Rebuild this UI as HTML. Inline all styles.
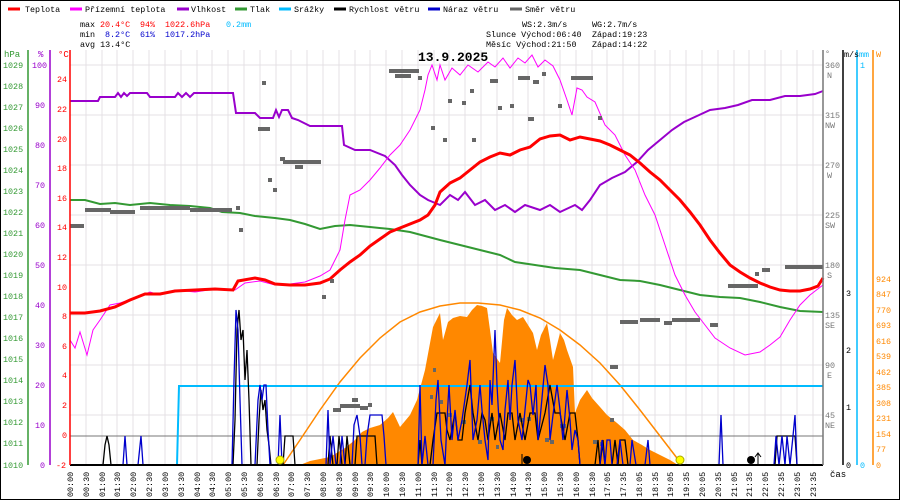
<!DOCTYPE html>
<html><head><meta charset="utf-8"><style>
html,body{margin:0;padding:0;background:#fff}
svg{display:block}
text{font-family:"Liberation Mono","DejaVu Sans Mono",monospace;font-size:8.4px}
</style></head><body>
<svg width="900" height="500" viewBox="0 0 900 500" xmlns="http://www.w3.org/2000/svg">
<rect x="0.5" y="0.5" width="899" height="499" fill="#fff" stroke="#000"/>
<!-- legend -->
<g stroke-width="3">
<line x1="8" y1="9" x2="20" y2="9" stroke="#f00"/>
<line x1="70" y1="9" x2="82" y2="9" stroke="#f0f"/>
<line x1="177" y1="9" x2="189" y2="9" stroke="#90c"/>
<line x1="235" y1="9" x2="247" y2="9" stroke="#393"/>
<line x1="279" y1="9" x2="291" y2="9" stroke="#0bf"/>
<line x1="334" y1="9" x2="346" y2="9" stroke="#000"/>
<line x1="428" y1="9" x2="440" y2="9" stroke="#00c"/>
<line x1="510" y1="9" x2="522" y2="9" stroke="#666"/>
</g>
<g fill="#000" style="font-size:9px">
<text x="25" y="12">Teplota</text>
<text x="85" y="12">Přízemní teplota</text>
<text x="191" y="12">Vlhkost</text>
<text x="250" y="12">Tlak</text>
<text x="294" y="12">Srážky</text>
<text x="349" y="12">Rychlost větru</text>
<text x="443" y="12">Náraz větru</text>
<text x="525" y="12">Směr větru</text>
</g>
<g fill="#000">
<text x="80" y="27">max</text><text x="80" y="37">min</text><text x="80" y="47">avg 13.4°C</text>
<text x="100" y="27" fill="#f00">20.4°C</text><text x="140" y="27" fill="#f00">94%</text><text x="165" y="27" fill="#f00">1022.6hPa</text><text x="226" y="27" fill="#0bf">0.2mm</text>
<text x="105" y="37" fill="#00c">8.2°C</text><text x="140" y="37" fill="#00c">61%</text><text x="165" y="37" fill="#00c">1017.2hPa</text>
<text x="522" y="27">WS:2.3m/s</text><text x="592" y="27">WG:2.7m/s</text>
<text x="486" y="37">Slunce Východ:06:40</text><text x="592" y="37">Západ:19:23</text>
<text x="486" y="47">Měsíc  Východ:21:50</text><text x="592" y="47">Západ:14:22</text>
</g>
<!-- grid -->
<g stroke="#e4e0e4">
<line x1="86" y1="50" x2="86" y2="465"/><line x1="102" y1="50" x2="102" y2="465"/><line x1="117" y1="50" x2="117" y2="465"/><line x1="133" y1="50" x2="133" y2="465"/><line x1="149" y1="50" x2="149" y2="465"/><line x1="165" y1="50" x2="165" y2="465"/><line x1="181" y1="50" x2="181" y2="465"/><line x1="197" y1="50" x2="197" y2="465"/><line x1="212" y1="50" x2="212" y2="465"/><line x1="228" y1="50" x2="228" y2="465"/><line x1="244" y1="50" x2="244" y2="465"/><line x1="260" y1="50" x2="260" y2="465"/><line x1="276" y1="50" x2="276" y2="465"/><line x1="291" y1="50" x2="291" y2="465"/><line x1="307" y1="50" x2="307" y2="465"/><line x1="323" y1="50" x2="323" y2="465"/><line x1="339" y1="50" x2="339" y2="465"/><line x1="355" y1="50" x2="355" y2="465"/><line x1="370" y1="50" x2="370" y2="465"/><line x1="386" y1="50" x2="386" y2="465"/><line x1="402" y1="50" x2="402" y2="465"/><line x1="418" y1="50" x2="418" y2="465"/><line x1="434" y1="50" x2="434" y2="465"/><line x1="449" y1="50" x2="449" y2="465"/><line x1="465" y1="50" x2="465" y2="465"/><line x1="481" y1="50" x2="481" y2="465"/><line x1="497" y1="50" x2="497" y2="465"/><line x1="513" y1="50" x2="513" y2="465"/><line x1="528" y1="50" x2="528" y2="465"/><line x1="544" y1="50" x2="544" y2="465"/><line x1="560" y1="50" x2="560" y2="465"/><line x1="576" y1="50" x2="576" y2="465"/><line x1="592" y1="50" x2="592" y2="465"/><line x1="607" y1="50" x2="607" y2="465"/><line x1="623" y1="50" x2="623" y2="465"/><line x1="639" y1="50" x2="639" y2="465"/><line x1="655" y1="50" x2="655" y2="465"/><line x1="670" y1="50" x2="670" y2="465"/><line x1="686" y1="50" x2="686" y2="465"/><line x1="702" y1="50" x2="702" y2="465"/><line x1="718" y1="50" x2="718" y2="465"/><line x1="734" y1="50" x2="734" y2="465"/><line x1="749" y1="50" x2="749" y2="465"/><line x1="765" y1="50" x2="765" y2="465"/><line x1="781" y1="50" x2="781" y2="465"/><line x1="797" y1="50" x2="797" y2="465"/><line x1="813" y1="50" x2="813" y2="465"/>
<line x1="70" y1="65" x2="823" y2="65"/><line x1="70" y1="115" x2="823" y2="115"/><line x1="70" y1="165" x2="823" y2="165"/><line x1="70" y1="215" x2="823" y2="215"/><line x1="70" y1="265" x2="823" y2="265"/><line x1="70" y1="315" x2="823" y2="315"/><line x1="70" y1="365" x2="823" y2="365"/><line x1="70" y1="415" x2="823" y2="415"/>
</g>
<line x1="70" y1="436" x2="823" y2="436" stroke="#777"/>
<!-- solar fill -->
<polygon fill="#f80" points="300,465 310,461 330,457 345,448 355,440 362,432 370,428 380,425 388,418 393,412 400,427 410,415 417,400 425,370 433,327 440,313 443,340 448,322 453,318 460,316 467,317 472,310 477,305 482,306 487,308 490,330 493,353 500,363 504,320 507,308 512,315 517,320 523,317 528,325 533,333 537,350 541,335 547,323 550,340 553,360 557,345 560,333 564,340 567,350 573,367 575,413 580,400 587,390 592,398 600,407 607,415 617,423 625,430 633,440 642,445 650,450 660,455 670,460 678,465"/>
<polyline fill="none" stroke="#f80" stroke-width="1.5" points="283,465 300,440 320,410 340,382 360,358 380,338 400,322 420,312 440,306 460,303 478,303 500,305 520,310 540,318 560,330 580,345 600,363 620,385 640,410 660,436 680,462"/>
<!-- precip -->
<polyline fill="none" stroke="#0bf" stroke-width="2" points="70,465 177,465 179,386 823,386"/>
<!-- pressure -->
<polyline fill="none" stroke="#393" stroke-width="2" points="70,200 85,200 100,204 115,203 130,205 150,203 170,205 190,206 210,208 222,212 240,213 255,216 275,218 290,220 305,224 320,229 335,226 350,225 370,227 390,229 410,232 425,236 440,240 460,245 480,250 500,255 515,262 535,265 555,268 580,270 600,275 620,280 640,281 660,285 680,290 700,295 720,297 740,298 760,302 780,307 800,311 823,312"/>
<!-- humidity -->
<polyline fill="none" stroke="#90c" stroke-width="2" points="70,101 98,101 100,97 115,97 118,93 121,97 124,93 127,96 130,93 147,93 150,97 175,97 178,93 182,97 186,93 190,97 194,93 233,93 236,113 255,113 260,118 273,118 276,110 279,117 282,110 288,110 292,118 298,120 310,126 342,126 344,145 355,150 370,150 385,156 395,165 402,175 410,185 420,195 428,200 440,205 450,195 458,200 465,192 475,205 485,200 495,210 505,205 515,212 525,205 540,210 550,205 560,212 575,205 582,210 590,200 600,185 612,178 625,172 637,162 648,150 660,140 672,130 684,122 697,116 710,110 725,108 738,105 752,100 770,100 785,96 800,96 815,94 823,91"/>
<!-- apparent temp -->
<polyline fill="none" stroke="#f0f" stroke-width="1" points="70,340 75,348 80,332 87,355 93,330 100,320 110,305 120,303 135,298 150,292 160,295 175,290 195,292 215,289 235,290 245,283 260,281 275,285 290,284 305,282 320,276 330,270 340,250 345,220 350,195 360,190 370,180 380,168 390,155 400,145 410,130 420,110 425,90 428,75 432,65 437,80 440,65 445,80 452,68 460,75 468,65 478,72 488,62 495,67 503,58 510,68 518,58 525,63 532,55 538,67 545,60 553,66 560,80 567,100 572,115 577,88 582,90 587,97 595,102 605,125 615,135 625,155 635,170 645,195 655,215 665,245 675,275 685,295 695,312 705,325 715,338 730,348 745,355 760,352 770,345 780,337 790,320 800,305 810,295 823,285"/>
<!-- temperature -->
<polyline fill="none" stroke="#f00" stroke-width="3" points="70,313 85,313 100,311 115,307 130,300 145,294 160,294 175,291 195,290 215,289 233,290 238,281 255,278 265,280 275,284 290,285 305,285 320,283 330,279 340,270 350,262 360,255 370,246 380,239 390,232 400,228 410,224 420,220 428,215 435,205 440,192 450,183 460,178 470,170 480,162 490,157 500,153 510,155 520,150 530,147 540,139 550,136 560,135 570,140 580,137 590,139 600,141 610,145 620,150 630,155 640,163 650,172 660,180 670,190 680,200 690,212 700,225 710,240 720,253 730,265 740,272 750,278 760,283 770,287 780,290 790,291 800,291 810,289 818,286 823,278"/>
<!-- wind direction -->
<g fill="#666">
<rect x="70" y="224" width="14" height="4"/><rect x="85" y="208" width="26" height="4"/><rect x="110" y="210" width="25" height="4"/><rect x="140" y="206" width="50" height="4"/><rect x="190" y="208" width="42" height="4"/><rect x="236" y="206" width="4" height="4"/><rect x="239" y="228" width="4" height="4"/>
<rect x="262" y="81" width="4" height="4"/><rect x="258" y="127" width="12" height="4"/><rect x="268" y="178" width="4" height="4"/><rect x="273" y="188" width="4" height="4"/><rect x="280" y="157" width="5" height="4"/><rect x="283" y="160" width="38" height="4"/><rect x="295" y="165" width="8" height="4"/><rect x="322" y="295" width="4" height="4"/><rect x="330" y="279" width="4" height="4"/>
<rect x="333" y="408" width="8" height="4"/><rect x="340" y="404" width="20" height="4"/><rect x="352" y="398" width="6" height="4"/><rect x="360" y="406" width="8" height="4"/><rect x="368" y="403" width="4" height="4"/>
<rect x="389" y="69" width="30" height="4"/><rect x="395" y="74" width="16" height="4"/><rect x="418" y="76" width="4" height="4"/><rect x="431" y="126" width="4" height="4"/><rect x="443" y="138" width="4" height="4"/><rect x="448" y="99" width="4" height="4"/><rect x="462" y="101" width="4" height="4"/><rect x="470" y="89" width="4" height="4"/><rect x="472" y="138" width="4" height="4"/><rect x="490" y="79" width="8" height="4"/><rect x="498" y="106" width="4" height="4"/><rect x="510" y="104" width="4" height="4"/><rect x="518" y="76" width="12" height="4"/><rect x="528" y="117" width="6" height="4"/><rect x="533" y="80" width="6" height="4"/><rect x="542" y="72" width="4" height="4"/><rect x="558" y="104" width="4" height="4"/><rect x="571" y="76" width="22" height="4"/><rect x="598" y="116" width="4" height="4"/>
<rect x="620" y="320" width="18" height="4"/><rect x="640" y="318" width="20" height="4"/><rect x="664" y="321" width="8" height="4"/><rect x="672" y="318" width="28" height="4"/><rect x="710" y="323" width="8" height="4"/><rect x="610" y="365" width="8" height="4"/>
<rect x="728" y="284" width="30" height="4"/><rect x="755" y="272" width="4" height="4"/><rect x="762" y="268" width="8" height="4"/><rect x="785" y="265" width="38" height="4"/>
<rect x="433" y="368" width="3" height="4"/><rect x="430" y="395" width="3" height="4"/><rect x="440" y="400" width="3" height="4"/><rect x="448" y="413" width="4" height="4"/><rect x="462" y="420" width="4" height="4"/><rect x="478" y="440" width="4" height="4"/><rect x="490" y="417" width="4" height="4"/><rect x="496" y="445" width="3" height="4"/><rect x="520" y="418" width="4" height="4"/><rect x="527" y="417" width="4" height="4"/><rect x="545" y="438" width="4" height="4"/><rect x="550" y="440" width="4" height="4"/><rect x="560" y="424" width="6" height="4"/><rect x="593" y="440" width="4" height="4"/><rect x="600" y="442" width="3" height="4"/><rect x="610" y="418" width="4" height="4"/>
</g>
<!-- wind speed -->
<polyline fill="none" stroke="#000" stroke-width="1.3" points="70,465 103,465 105,445 107,436 109,445 111,465 233,465 235,420 237,330 239,310 241,340 243,330 245,380 247,350 249,400 251,465 257,465 259,420 261,390 263,410 265,400 267,430 269,445 271,465 283,465 285,436 293,436 295,465 328,465 330,436 333,465 337,465 339,436 342,465 345,465 347,436 350,465 355,465 357,436 375,436 377,465 418,465 420,440 422,465 430,465 433,440 437,413 445,413 447,430 450,440 455,413 458,440 462,440 465,413 470,385 473,413 478,440 482,413 485,420 488,440 492,413 495,440 500,413 505,440 508,413 512,413 515,440 520,413 525,440 530,413 535,413 538,440 545,413 550,385 555,413 560,413 565,440 570,413 575,413 578,440 580,465 595,465 598,440 600,465 603,440 605,465 612,465 615,440 618,465 620,440 625,440 628,465 775,465 777,436 795,436 797,465 823,465"/>
<polyline fill="none" stroke="#00c" stroke-width="1.3" points="70,465 123,465 125,436 127,465 138,465 141,436 143,465 232,465 234,380 236,310 238,330 240,400 242,465 255,465 258,400 260,385 262,400 264,385 266,385 268,430 270,465 278,465 280,415 282,465 326,465 328,410 330,465 333,436 336,465 340,465 342,436 345,465 352,465 354,425 357,415 360,436 362,465 365,465 367,436 370,415 382,415 384,436 386,465 418,465 420,385 422,465 425,436 428,465 433,465 436,400 438,380 441,440 445,465 447,420 449,385 452,440 455,410 458,440 462,420 467,385 470,360 473,440 477,420 480,385 482,410 485,440 488,460 490,380 492,405 495,330 497,385 500,440 503,450 505,410 508,380 510,420 512,385 515,360 518,420 522,440 525,410 528,380 530,385 533,415 536,385 538,440 540,420 545,365 548,385 550,440 553,415 557,385 560,410 563,440 567,390 570,420 572,450 575,430 578,440 580,465 600,465 602,440 605,465 607,440 610,440 612,465 617,465 620,440 623,465 630,465 632,440 636,465 645,465 648,440 650,465 719,465 721,415 723,465 774,465 776,436 779,465 782,436 785,465 787,436 790,465 793,436 795,415 797,465 823,465"/>
<line x1="70" y1="465" x2="823" y2="465" stroke="#000" stroke-width="2"/>
<!-- markers -->
<circle cx="280" cy="460" r="4" fill="#ff0" stroke="#aa0"/>
<circle cx="680" cy="460" r="4" fill="#ff0" stroke="#aa0"/>
<circle cx="527" cy="460" r="4" fill="#000"/>
<circle cx="751" cy="460" r="4" fill="#000"/>
<line x1="522" y1="454" x2="522" y2="465" stroke="#000"/>
<line x1="758" y1="454" x2="758" y2="464" stroke="#000"/><path d="M755,457 L758,453 L761,457" fill="none" stroke="#000"/>
<!-- title -->
<text x="418" y="61" style="font-size:13px;font-weight:bold">13.9.2025</text>
<!-- left axes -->
<line x1="28" y1="50" x2="28" y2="465" stroke="#393" stroke-width="1.5"/>
<line x1="50" y1="50" x2="50" y2="465" stroke="#90c" stroke-width="1.5"/>
<line x1="70" y1="50" x2="70" y2="465" stroke="#f00" stroke-width="1.5"/>
<text x="4" y="57" fill="#393" style="font-size:9px">hPa</text><text x="38" y="57" fill="#90c" style="font-size:9px">%</text><text x="58" y="57" fill="#f00" style="font-size:9px">°C</text>
<g fill="#393" style="font-size:9px">
<text x="3" y="68">1029</text><text x="3" y="89">1028</text><text x="3" y="110">1027</text><text x="3" y="131">1026</text><text x="3" y="152">1025</text><text x="3" y="173">1024</text><text x="3" y="194">1023</text><text x="3" y="215">1022</text><text x="3" y="236">1021</text><text x="3" y="257">1020</text><text x="3" y="278">1019</text><text x="3" y="299">1018</text><text x="3" y="320">1017</text><text x="3" y="341">1016</text><text x="3" y="362">1015</text><text x="3" y="383">1014</text><text x="3" y="404">1013</text><text x="3" y="425">1012</text><text x="3" y="446">1011</text><text x="3" y="468">1010</text>
</g>
<g fill="#90c" style="font-size:9px">
<text x="32" y="68">100</text><text x="35" y="108">90</text><text x="35" y="148">80</text><text x="35" y="188">70</text><text x="35" y="228">60</text><text x="35" y="268">50</text><text x="35" y="308">40</text><text x="35" y="348">30</text><text x="35" y="388">20</text><text x="35" y="428">10</text><text x="40" y="468">0</text>
</g>
<g fill="#f00" style="font-size:9px">
<text x="57" y="82">24</text><text x="57" y="112">22</text><text x="57" y="142">20</text><text x="57" y="171">18</text><text x="57" y="201">16</text><text x="57" y="230">14</text><text x="57" y="260">12</text><text x="57" y="290">10</text><text x="62" y="319">8</text><text x="62" y="349">6</text><text x="62" y="378">4</text><text x="62" y="408">2</text><text x="62" y="438">0</text><text x="56" y="468">-2</text>
</g>
<!-- right axes -->
<line x1="823" y1="50" x2="823" y2="465" stroke="#777" stroke-width="1.5"/>
<line x1="843" y1="50" x2="843" y2="465" stroke="#000" stroke-width="1.5"/>
<line x1="857" y1="50" x2="857" y2="465" stroke="#0bf" stroke-width="1.5"/>
<line x1="873" y1="50" x2="873" y2="465" stroke="#f80" stroke-width="1.5"/>
<text x="825" y="56" fill="#777">°</text><text x="844" y="57">m/s</text><text x="859" y="57" fill="#0bf">mm</text><text x="876" y="57" fill="#f80">W</text>
<g fill="#777" style="font-size:9px">
<text x="825" y="68">360</text><text x="827" y="78">N</text>
<text x="825" y="118">315</text><text x="825" y="128">NW</text>
<text x="825" y="168">270</text><text x="827" y="178">W</text>
<text x="825" y="218">225</text><text x="825" y="228">SW</text>
<text x="825" y="268">180</text><text x="827" y="278">S</text>
<text x="825" y="318">135</text><text x="825" y="328">SE</text>
<text x="825" y="368">90</text><text x="827" y="378">E</text>
<text x="825" y="418">45</text><text x="825" y="428">NE</text>
</g>
<g style="font-size:9px">
<text x="846" y="296">3</text><text x="846" y="353">2</text><text x="846" y="410">1</text><text x="846" y="468">0</text>
<text x="860" y="68" fill="#0bf">1</text><text x="860" y="468" fill="#0bf">0</text>
</g>
<g fill="#f80" style="font-size:9px">
<text x="876" y="282">924</text><text x="876" y="297">847</text><text x="876" y="313">770</text><text x="876" y="328">693</text><text x="876" y="344">616</text><text x="876" y="359">539</text><text x="876" y="375">462</text><text x="876" y="390">385</text><text x="876" y="406">308</text><text x="876" y="421">231</text><text x="876" y="437">154</text><text x="876" y="452">77</text><text x="876" y="468">0</text>
</g>
<text x="830" y="477" style="font-size:9px">čas</text>
<!-- x labels -->
<g style="font-size:9px" fill="#000">
<text transform="translate(73,497) rotate(-90)">00:00</text><text transform="translate(89,497) rotate(-90)">00:30</text><text transform="translate(105,497) rotate(-90)">01:00</text><text transform="translate(120,497) rotate(-90)">01:30</text><text transform="translate(136,497) rotate(-90)">02:00</text><text transform="translate(152,497) rotate(-90)">02:30</text><text transform="translate(168,497) rotate(-90)">03:00</text><text transform="translate(184,497) rotate(-90)">03:30</text><text transform="translate(200,497) rotate(-90)">04:00</text><text transform="translate(215,497) rotate(-90)">04:30</text><text transform="translate(231,497) rotate(-90)">05:00</text><text transform="translate(247,497) rotate(-90)">05:30</text><text transform="translate(263,497) rotate(-90)">06:00</text><text transform="translate(279,497) rotate(-90)">06:30</text><text transform="translate(294,497) rotate(-90)">07:00</text><text transform="translate(310,497) rotate(-90)">07:30</text><text transform="translate(326,497) rotate(-90)">08:00</text><text transform="translate(342,497) rotate(-90)">08:30</text><text transform="translate(358,497) rotate(-90)">09:00</text><text transform="translate(373,497) rotate(-90)">09:30</text><text transform="translate(389,497) rotate(-90)">10:00</text><text transform="translate(405,497) rotate(-90)">10:30</text><text transform="translate(421,497) rotate(-90)">11:00</text><text transform="translate(437,497) rotate(-90)">11:30</text><text transform="translate(452,497) rotate(-90)">12:00</text><text transform="translate(468,497) rotate(-90)">12:30</text><text transform="translate(484,497) rotate(-90)">13:00</text><text transform="translate(500,497) rotate(-90)">13:30</text><text transform="translate(516,497) rotate(-90)">14:00</text><text transform="translate(531,497) rotate(-90)">14:30</text><text transform="translate(547,497) rotate(-90)">15:00</text><text transform="translate(563,497) rotate(-90)">15:30</text><text transform="translate(579,497) rotate(-90)">16:00</text><text transform="translate(595,497) rotate(-90)">16:30</text><text transform="translate(610,497) rotate(-90)">17:05</text><text transform="translate(626,497) rotate(-90)">17:35</text><text transform="translate(642,497) rotate(-90)">18:05</text><text transform="translate(658,497) rotate(-90)">18:35</text><text transform="translate(673,497) rotate(-90)">19:05</text><text transform="translate(689,497) rotate(-90)">19:35</text><text transform="translate(705,497) rotate(-90)">20:05</text><text transform="translate(721,497) rotate(-90)">20:35</text><text transform="translate(737,497) rotate(-90)">21:05</text><text transform="translate(752,497) rotate(-90)">21:35</text><text transform="translate(768,497) rotate(-90)">22:05</text><text transform="translate(784,497) rotate(-90)">22:35</text><text transform="translate(800,497) rotate(-90)">23:05</text><text transform="translate(816,497) rotate(-90)">23:35</text>
</g>
</svg>
</body></html>
